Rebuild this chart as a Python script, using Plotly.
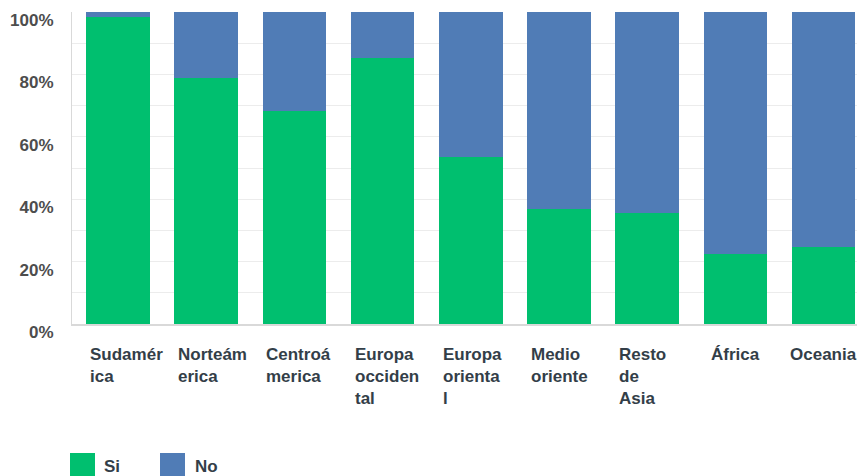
import plotly.graph_objects as go

# Share of respondents per region (percent)
regions = ["Sudamérica", "Norteamérica", "Centroamerica", "Europa occidental",
           "Europa oriental", "Medio oriente", "Resto de Asia", "África", "Oceania"]
region_labels = ["Sudamér<br>ica", "Norteám<br>erica", "Centroá<br>merica",
                 "Europa<br>occiden<br>tal", "Europa<br>orienta<br>l", "Medio<br>oriente",
                 "Resto<br>de<br>Asia", "África", "Oceania"]
si_values = [98.3, 78.8, 68.3, 85.2, 53.6, 36.8, 35.7, 22.3, 24.6]
no_values = [1.7, 21.2, 31.7, 14.8, 46.4, 63.2, 64.3, 77.7, 75.4]
y_tickvals = [0, 20, 40, 60, 80, 100]
y_ticktext = ["0%", "20%", "40%", "60%", "80%", "100%"]

GREEN = "#00bf6f"
BLUE = "#507cb6"
FONT = "Liberation Sans"
TEXT_COLOR = "#333e48"

fig = go.Figure()
fig.add_trace(go.Bar(x=regions, y=si_values, name="Si", marker_color=GREEN,
                     marker_line_width=0, showlegend=False))
fig.add_trace(go.Bar(x=regions, y=no_values, name="No", marker_color=BLUE,
                     marker_line_width=0, showlegend=False))

annotations = []
# Category labels under each bar: wrapped ones start at the bar's left edge,
# single-word ones are centred on the bar
for reg, lab in zip(regions, region_labels):
    wrapped = "<br>" in lab
    annotations.append(dict(
        x=reg, xref="x", y=0, yref="paper", text=lab, showarrow=False,
        xanchor="left" if wrapped else "center", yanchor="top", align="left",
        xshift=-30 if wrapped else 0, yshift=-19,
        font=dict(family=FONT, size=17, color=TEXT_COLOR, weight=700)))

# Legend drawn as squares with text beneath the axis
shapes = []
legend_items = [("Si", GREEN, -2, 30), ("No", BLUE, 88, 121)]
for name, color, sx, tx in legend_items:
    shapes.append(dict(type="rect", xref="paper", yref="paper",
                       xsizemode="pixel", ysizemode="pixel", xanchor=0, yanchor=0,
                       x0=sx, x1=sx + 25, y0=-129, y1=-156,
                       fillcolor=color, line_width=0, layer="above"))
    annotations.append(dict(
        x=0, xref="paper", y=0, yref="paper", text=name, showarrow=False,
        xanchor="left", yanchor="middle", xshift=tx, yshift=-142,
        font=dict(family=FONT, size=17, color=TEXT_COLOR, weight=700)))

fig.update_layout(
    width=857, height=476,
    margin=dict(l=72, r=0, t=12, b=152, autoexpand=False),
    barmode="stack", bargap=0.28,
    plot_bgcolor="white", paper_bgcolor="white",
    annotations=annotations, shapes=shapes,
    xaxis=dict(range=[-0.5215, 8.379], showticklabels=False, showgrid=False,
               showline=True, linecolor="#d9d9d9", linewidth=2, zeroline=False,
               fixedrange=True),
    yaxis=dict(range=[0, 100], tickvals=y_tickvals, ticktext=y_ticktext,
               showgrid=True, gridcolor="#ececec", gridwidth=1,
               minor=dict(dtick=10, showgrid=True, gridcolor="#ececec", gridwidth=1),
               showline=True, linecolor="#d9d9d9", linewidth=1, zeroline=False,
               ticks="", ticklabelstandoff=14, ticklabelshift=8,
               ticklabeloverflow="allow",
               tickfont=dict(family=FONT, size=17, color="#4d4d4d", weight=700)),
)

fig.write_html("out.html")
